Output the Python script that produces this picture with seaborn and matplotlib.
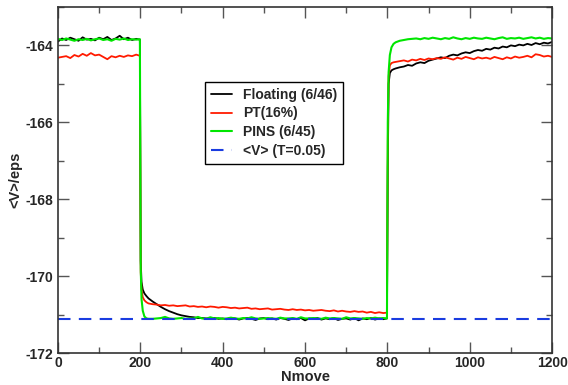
import matplotlib
matplotlib.use("Agg")
import matplotlib.pyplot as plt
import seaborn as sns
import pandas as pd
from matplotlib.ticker import MultipleLocator

# ---------------- data ----------------
nmove_a = [0, 10, 20, 30, 40, 50, 60, 70, 80, 90, 100, 110, 120, 130, 140, 150, 160, 170, 180, 190, 199]
nmove_b = [201, 203, 206, 210, 215, 220,
           230, 240, 250, 260, 270, 280, 290, 300, 310, 320,
           330, 340, 350, 360, 370, 380, 390, 400, 410, 420,
           430, 440, 450, 460, 470, 480, 490, 500, 510, 520,
           530, 540, 550, 560, 570, 580, 590, 600, 610, 620,
           630, 640, 650, 660, 670, 680, 690, 700, 710, 720,
           730, 740, 750, 760, 770, 780, 790, 799]
nmove_c = [801, 803, 806, 810, 815, 820,
           830, 840, 850, 860, 870, 880, 890, 900, 910, 920,
           930, 940, 950, 960, 970, 980, 990, 1000, 1010, 1020,
           1030, 1040, 1050, 1060, 1070, 1080, 1090, 1100, 1110, 1120,
           1130, 1140, 1150, 1160, 1170, 1180, 1190, 1200]

floating_a = [-163.90, -163.82, -163.86, -163.80, -163.84, -163.88, -163.79, -163.85, -163.83, -163.87,
              -163.80, -163.84, -163.78, -163.86, -163.82, -163.75, -163.84, -163.80, -163.86, -163.83, -163.85]
floating_b = [-169.6, -170.15, -170.35, -170.45, -170.52, -170.58,
              -170.66, -170.73, -170.80, -170.86, -170.91, -170.95, -170.99, -171.02, -171.04, -171.06,
              -171.07, -171.09, -171.09, -171.10,
              -171.10, -171.09, -171.11, -171.10, -171.12, -171.09,
              -171.10, -171.13, -171.10, -171.09,
              -171.11, -171.14, -171.10, -171.09, -171.12, -171.10, -171.13, -171.09, -171.11, -171.14,
              -171.10, -171.12, -171.09, -171.15, -171.10, -171.11, -171.09, -171.13, -171.10, -171.12,
              -171.09, -171.14, -171.11, -171.10, -171.13, -171.09, -171.15, -171.10, -171.12, -171.09,
              -171.13, -171.10, -171.12, -171.10]
floating_c = [-167.2, -165.0, -164.72, -164.65, -164.62, -164.60,
              -164.57, -164.55, -164.51, -164.53, -164.47, -164.44, -164.46, -164.40, -164.37, -164.34,
              -164.31, -164.33, -164.27, -164.24, -164.26, -164.21, -164.18, -164.20, -164.15, -164.12,
              -164.14, -164.09, -164.11, -164.06, -164.08, -164.03, -164.05, -164.00, -164.02, -163.98,
              -164.00, -163.96, -163.99, -163.94, -163.97, -163.93, -163.95, -163.91]

pt_a = [-164.32, -164.30, -164.28, -164.33, -164.25, -164.29, -164.22, -164.27, -164.20, -164.26,
        -164.24, -164.30, -164.36, -164.28, -164.31, -164.27, -164.30, -164.26, -164.28, -164.24, -164.27]
pt_b = [-169.9, -170.35, -170.55, -170.63, -170.68, -170.71,
        -170.73, -170.74, -170.76, -170.75, -170.77, -170.76, -170.78, -170.77, -170.76, -170.79,
        -170.78, -170.80, -170.79, -170.81, -170.79, -170.80, -170.82, -170.80, -170.81, -170.83,
        -170.82, -170.84, -170.83, -170.82, -170.85, -170.84, -170.86, -170.85, -170.84, -170.87,
        -170.86, -170.85, -170.87, -170.88, -170.86, -170.88, -170.87, -170.89, -170.88, -170.90,
        -170.89, -170.88, -170.90, -170.91, -170.89, -170.92, -170.90, -170.92, -170.93, -170.91,
        -170.93, -170.92, -170.95, -170.93, -170.96, -170.94, -170.96, -170.95]
pt_c = [-166.5, -164.8, -164.52, -164.46, -164.44, -164.43,
        -164.41, -164.39, -164.42, -164.37, -164.39, -164.35, -164.38, -164.34, -164.36, -164.33,
        -164.35, -164.31, -164.34, -164.37, -164.32, -164.35, -164.30, -164.33, -164.36, -164.31,
        -164.34, -164.32, -164.35, -164.30, -164.33, -164.36, -164.31, -164.34, -164.29, -164.32,
        -164.30, -164.27, -164.31, -164.23, -164.25, -164.29, -164.27, -164.30]

pins_a = [-163.83, -163.86, -163.82, -163.85, -163.88, -163.84, -163.86, -163.83, -163.87, -163.84,
          -163.82, -163.86, -163.84, -163.88, -163.83, -163.85, -163.82, -163.86, -163.84, -163.85, -163.84]
pins_b = [-169.8, -170.6, -170.9, -171.05, -171.10, -171.11,
          -171.11, -171.10, -171.09, -171.06, -171.10, -171.11, -171.10, -171.09, -171.11, -171.10,
          -171.10, -171.06, -171.10, -171.11, -171.07, -171.10, -171.09, -171.11, -171.10, -171.08,
          -171.10, -171.11, -171.09, -171.10, -171.07, -171.10, -171.11, -171.10, -171.09, -171.10,
          -171.11, -171.08, -171.10, -171.10, -171.09, -171.11, -171.07, -171.10, -171.10, -171.09,
          -171.10, -171.11, -171.08, -171.10, -171.09, -171.10, -171.11, -171.07, -171.10, -171.09,
          -171.10, -171.11, -171.09, -171.10, -171.08, -171.10, -171.09, -171.10]
pins_c = [-166.0, -164.7, -164.25, -164.05, -163.96, -163.92,
          -163.88, -163.86, -163.84, -163.83, -163.82, -163.84, -163.81, -163.83, -163.80, -163.82,
          -163.84, -163.81, -163.83, -163.79, -163.82, -163.84, -163.81, -163.83, -163.80, -163.82,
          -163.83, -163.80, -163.82, -163.84, -163.81, -163.79, -163.83, -163.81, -163.82, -163.80,
          -163.83, -163.81, -163.79, -163.82, -163.80, -163.83, -163.81, -163.82]

v_avg_x = [0, 1200]
v_avg = [-171.12, -171.12]

labels = ["Floating (6/46)", "PT(16%)", "PINS (6/45)", "<V> (T=0.05)"]
x_ticks = [0, 200, 400, 600, 800, 1000, 1200]
y_ticks = [-172, -170, -168, -166, -164]

# ---------------- plotting ----------------
sns.set_style("ticks")
plt.rcParams["font.family"] = ["Liberation Sans", "DejaVu Sans"]
plt.rcParams["font.weight"] = "bold"
plt.rcParams["axes.unicode_minus"] = False

fig = plt.figure(figsize=(5.68, 3.85), dpi=100)
ax = fig.add_axes([0.102, 0.083, 0.870, 0.899])

nmove = nmove_a + nmove_b + nmove_c
df_f = pd.DataFrame({"x": nmove, "y": floating_a + floating_b + floating_c})
df_p = pd.DataFrame({"x": nmove, "y": pt_a + pt_b + pt_c})
df_g = pd.DataFrame({"x": nmove, "y": pins_a + pins_b + pins_c})
df_v = pd.DataFrame({"x": v_avg_x, "y": v_avg})

sns.lineplot(data=df_f, x="x", y="y", ax=ax, color="black", lw=1.3, sort=False)
sns.lineplot(data=df_p, x="x", y="y", ax=ax, color="#ff1a00", lw=1.3, sort=False)
sns.lineplot(data=df_g, x="x", y="y", ax=ax, color="#00e600", lw=1.5, sort=False)
sns.lineplot(data=df_v, x="x", y="y", ax=ax, color="#1a3ce0", lw=1.5,
             dashes=False, linestyle=(0, (6, 4)))

ax.set_xlim(0, 1200)
ax.set_ylim(-172, -163)
ax.set_xticks(x_ticks)
ax.set_yticks(y_ticks)
ax.xaxis.set_minor_locator(MultipleLocator(100))
ax.yaxis.set_minor_locator(MultipleLocator(1))
ax.tick_params(which="both", direction="in", top=True, right=True, width=1.0, color="#555555")
ax.tick_params(which="major", length=8, labelsize=10)
ax.tick_params(axis="x", which="major", pad=2)
ax.tick_params(which="minor", length=4)
for lab in ax.get_xticklabels() + ax.get_yticklabels():
    lab.set_fontweight("bold")
for sp in ax.spines.values():
    sp.set_linewidth(1.2)
    sp.set_color("#333333")

ax.set_xlabel("Nmove", fontsize=10.5, fontweight="bold", labelpad=0)
ax.set_ylabel("<V>/eps", fontsize=10.5, fontweight="bold", labelpad=2)

handles = ax.get_lines()[:4]
leg = ax.legend(handles, labels, loc="upper left", bbox_to_anchor=(0.298, 0.783), borderaxespad=0,
                frameon=True, fancybox=False, alignment="left",
                edgecolor="black", framealpha=1, prop={"weight": "bold", "size": 10},
                handlelength=1.5, handletextpad=0.8, labelspacing=0.35, borderpad=0.4)
leg.get_frame().set_linewidth(1.0)
for t in leg.get_texts():
    t.set_ha("left")

fig.savefig("out.png", dpi=100)
